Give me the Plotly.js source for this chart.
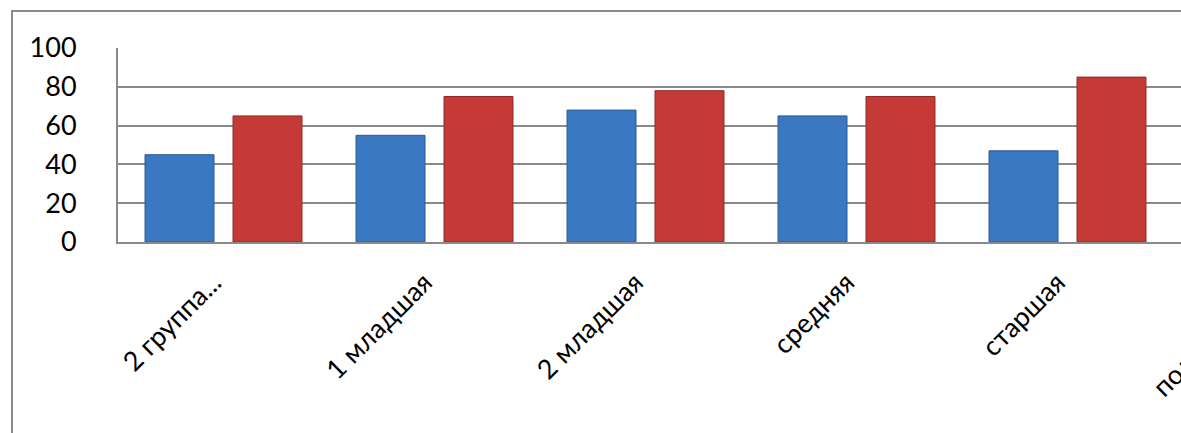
<!DOCTYPE html>
<html>
<head>
<meta charset="utf-8">
<script src="https://cdn.plot.ly/plotly-3.0.1.min.js"></script>
<style>
  html, body { margin: 0; padding: 0; background: #ffffff; overflow: hidden; width: 1181px; height: 433px; }
  #chart { position: absolute; left: 0; top: 0; }
  #frame { position: absolute; left: 11px; top: 10px; width: 2000px; height: 1000px;
           border: 2px solid #8a8a8a; pointer-events: none; }
</style>
</head>
<body>
<div id="chart"></div>
<div id="frame"></div>
<script>
// Categories (the sixth one is cut off at the right edge of the reference)
const categories = ['2 группа...', '1 младшая', '2 младшая', 'средняя', 'старшая', 'подготовит...'];
// Series values (sixth category's bars are outside the visible area)
const seriesBlue = [45, 55, 68, 65, 47, null];
const seriesRed  = [65, 75, 78, 75, 85, null];
const seriesNames = ['Начало года', 'Конец года'];
const yTickVals = [0, 20, 40, 60, 80, 100];

const W = 1450, H = 470;
const traces = [
  { type: 'bar', name: seriesNames[0], x: categories, y: seriesBlue,
    marker: { color: '#3b78c3', line: { color: '#2c5a94', width: 1 } }, hoverinfo: 'x+y' },
  { type: 'bar', name: seriesNames[1], x: categories, y: seriesRed,
    marker: { color: '#c53a37', line: { color: '#8e2927', width: 1 } }, hoverinfo: 'x+y' }
];

const layout = {
  width: W, height: H,
  margin: { l: 118, t: 48, r: W - 1384, b: H - 242, pad: 0 },
  paper_bgcolor: '#ffffff', plot_bgcolor: '#ffffff',
  showlegend: false,
  barmode: 'group', bargap: 0.166, bargroupgap: 0.216,
  font: { family: 'Lato, "Open Sans", sans-serif', color: '#000000' },
  xaxis: {
    type: 'category', range: [-0.5, 5.5],
    tickangle: -45, tickfont: { size: 27, family: 'Lato, sans-serif', color: '#000' },
    showgrid: false, zeroline: false,
    showline: true, linecolor: '#8a8a8a', linewidth: 2,
    ticks: '', ticklabelstandoff: 12, ticklabelshift: -10, automargin: false
  },
  yaxis: {
    range: [0, 100], tickvals: yTickVals, ticktext: yTickVals.map(String),
    tickfont: { size: 27, family: 'Lato, sans-serif', color: '#000' },
    showgrid: true, gridcolor: '#8a8a8a', gridwidth: 2,
    zeroline: false, showline: true, linecolor: '#8a8a8a', linewidth: 2,
    ticks: '', ticklabelstandoff: 34, automargin: false
  }
};

Plotly.newPlot('chart', traces, layout, { displayModeBar: false, staticPlot: true });
</script>
</body>
</html>
